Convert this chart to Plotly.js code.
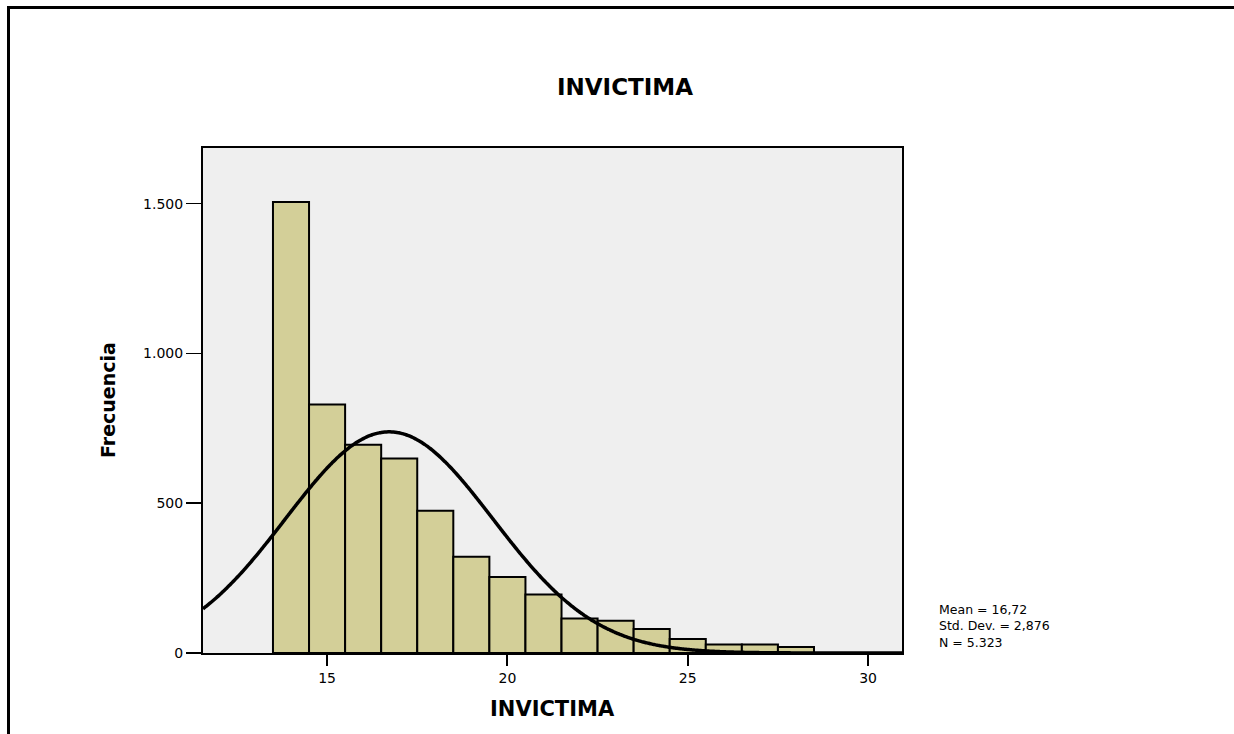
<!DOCTYPE html>
<html>
<head>
<meta charset="utf-8">
<script src="https://cdn.plot.ly/plotly-3.0.1.min.js"></script>
<style>
  html, body { margin: 0; padding: 0; background: #ffffff; }
  #chart { width: 1234px; height: 734px; }
</style>
</head>
<body>
<div id="chart"></div>
<script>
// Histogram bins (centres) and frequencies
const binCenters = [14, 15, 16, 17, 18, 19, 20, 21, 22, 23, 24, 25, 26, 27, 28];
const frequencies = [1506, 830, 695, 649, 475, 321, 254, 195, 115, 108, 80, 47, 28, 28, 20];
const binWidth = 1;

// Summary statistics shown in the chart
const statMean = 16.72;
const statSD = 2.876;
const statN = 5323;
const statLabels = ["Mean = 16,72", "Std. Dev. = 2,876", "N = 5.323"];

// Axis ticks
const xTickVals = [15, 20, 25, 30];
const xTickText = ["15", "20", "25", "30"];
const yTickVals = [0, 500, 1000, 1500];
const yTickText = ["0", "500", "1.000", "1.500"];

const xRange = [11.56, 30.94];
const yRange = [0, 1686];

// Fitted normal curve defined by the displayed mean / std. dev. / N
const curveX = [];
const curveY = [];
for (let i = 0; i <= 400; i++) {
  const x = xRange[0] + (xRange[1] - xRange[0]) * i / 400;
  const z = (x - statMean) / statSD;
  curveX.push(x);
  curveY.push(statN * binWidth / (statSD * Math.sqrt(2 * Math.PI)) * Math.exp(-0.5 * z * z));
}

const FONT = "DejaVu Sans, Arial, sans-serif";

const traces = [
  {
    type: "bar",
    x: binCenters,
    y: frequencies,
    width: binWidth,
    marker: { color: "#d3cf98", line: { color: "#000000", width: 2 } },
    hoverinfo: "x+y",
    showlegend: false
  },
  {
    type: "scatter",
    mode: "lines",
    x: curveX,
    y: curveY,
    line: { color: "#000000", width: 3.5, shape: "spline" },
    hoverinfo: "skip",
    showlegend: false
  }
];

// pixel helpers for decorations outside the plot (plot area 203..902 x 148..653)
const L = 203, R = 902, T = 148, B = 653;
const px = v => (v - L) / (R - L);
const py = v => (B - v) / (B - T);

const layout = {
  width: 1234,
  height: 734,
  margin: { l: L, r: 1234 - R, t: T, b: 734 - B, pad: 0 },
  paper_bgcolor: "#ffffff",
  plot_bgcolor: "#efefef",
  bargap: 0,
  font: { family: FONT, color: "#000000", size: 14 },
  xaxis: {
    range: xRange,
    tickvals: xTickVals,
    ticktext: xTickText,
    ticks: "outside",
    ticklen: 11,
    tickwidth: 2,
    tickcolor: "#000000",
    showline: true,
    linecolor: "#000000",
    linewidth: 2,
    mirror: true,
    showgrid: false,
    zeroline: false,
    tickfont: { family: FONT, size: 14, color: "#000000" }
  },
  yaxis: {
    range: yRange,
    tickvals: yTickVals,
    ticktext: yTickText,
    ticks: "outside",
    ticklen: 15,
    tickwidth: 1.5,
    tickcolor: "#000000",
    showline: true,
    linecolor: "#000000",
    linewidth: 2,
    mirror: true,
    showgrid: false,
    zeroline: false,
    tickfont: { family: FONT, size: 14, color: "#000000" }
  },
  annotations: [
    {
      text: "<b>INVICTIMA</b>",
      xref: "paper", yref: "paper",
      x: px(624.5), y: py(87.5),
      xanchor: "center", yanchor: "middle",
      showarrow: false,
      font: { family: FONT, size: 23, color: "#000000" }
    },
    {
      text: "<b>INVICTIMA</b>",
      xref: "paper", yref: "paper",
      x: 0.5, y: py(709),
      xanchor: "center", yanchor: "middle",
      showarrow: false,
      font: { family: FONT, size: 21, color: "#000000" }
    },
    {
      text: "<b>Frecuencia</b>",
      xref: "paper", yref: "paper",
      x: px(107.5), y: 0.5,
      xanchor: "center", yanchor: "middle",
      textangle: -90,
      showarrow: false,
      font: { family: FONT, size: 19, color: "#000000" }
    },
    {
      text: statLabels.join("<br>"),
      xref: "paper", yref: "paper",
      x: px(937), y: py(626),
      xanchor: "left", yanchor: "middle",
      align: "left",
      showarrow: false,
      font: { family: FONT, size: 12.5, color: "#000000" }
    }
  ],
  shapes: [
    {
      type: "line", xref: "paper", yref: "paper",
      x0: px(8.5), x1: px(1250), y0: py(7.5), y1: py(7.5),
      line: { color: "#000000", width: 3 }
    },
    {
      type: "line", xref: "paper", yref: "paper",
      x0: px(8.5), x1: px(8.5), y0: py(6), y1: py(760),
      line: { color: "#000000", width: 3 }
    }
  ]
};

Plotly.newPlot("chart", traces, layout, { displayModeBar: false, staticPlot: true });
</script>
</body>
</html>
